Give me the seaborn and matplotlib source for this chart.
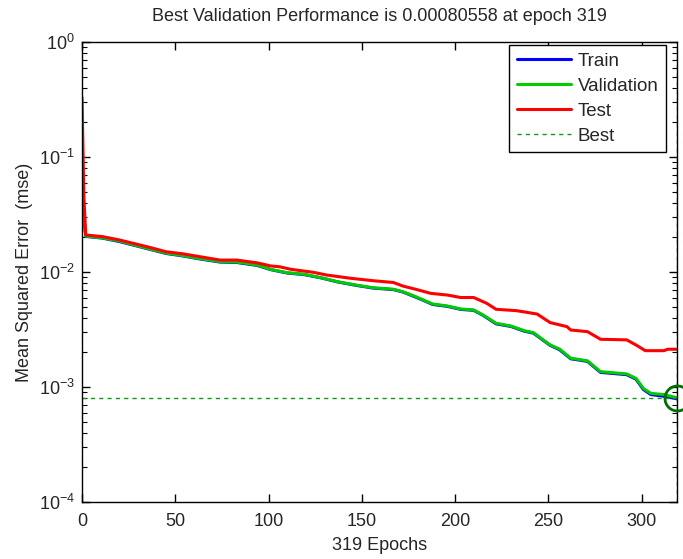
import matplotlib
matplotlib.use("Agg")
import matplotlib.pyplot as plt
import seaborn as sns
import pandas as pd
import numpy as np
from matplotlib.ticker import LogLocator, NullFormatter

# ---------------- data ----------------
val_epochs = [0, 1, 2, 11, 20, 29, 38, 45, 54, 63, 74, 83, 94, 101, 110, 119, 128, 137, 147, 156,
              167, 172, 178, 183, 188, 196, 203, 210, 215, 222, 230, 237, 242, 251, 256, 262, 271, 278,
              292, 297, 301, 305, 312, 319]
validation = [0.052, 0.031, 0.0205, 0.0198, 0.0186, 0.0170, 0.0156, 0.0146, 0.0139, 0.0131,
              0.0123, 0.0122, 0.0115, 0.01055, 0.00986, 0.00955, 0.00893, 0.00824, 0.0077, 0.0073,
              0.00708, 0.00674, 0.00619, 0.00571, 0.00527, 0.00506, 0.00477, 0.00468, 0.00423, 0.00358,
              0.00339, 0.00309, 0.00297, 0.00232, 0.00214, 0.00178, 0.00169, 0.00136, 0.0013, 0.00119,
              0.00097, 0.00088, 0.00086, 0.00080558]
train = [0.046, 0.030, 0.0204, 0.0197, 0.0184, 0.0169, 0.0155, 0.0145, 0.0138, 0.0130,
         0.0122, 0.0121, 0.0114, 0.0105, 0.0098, 0.0095, 0.0089, 0.0082, 0.00765, 0.00725,
         0.00703, 0.0067, 0.00613, 0.00567, 0.00522, 0.00502, 0.00473, 0.00464, 0.0042, 0.00354,
         0.00336, 0.00306, 0.00294, 0.0023, 0.00211, 0.00176, 0.00167, 0.00134, 0.00128, 0.00117,
         0.00095, 0.00086, 0.00083, 0.00079]
test_epochs = [0, 1, 2, 11, 20, 29, 38, 45, 54, 63, 74, 83, 94, 101, 106, 112, 124, 131, 144, 156,
               167, 172, 179, 187, 196, 203, 210, 217, 222, 233, 244, 251, 260, 262, 271, 278, 292, 297,
               302, 312, 314, 319]
test = [0.33, 0.045, 0.021, 0.0203, 0.0190, 0.0175, 0.0161, 0.0150, 0.0144, 0.0136,
        0.0127, 0.0127, 0.0120, 0.0113, 0.0111, 0.01055, 0.00994, 0.00942, 0.00882, 0.0084,
        0.0081, 0.00755, 0.00707, 0.00652, 0.0063, 0.0060, 0.0060, 0.00534, 0.00474, 0.00461,
        0.00431, 0.00363, 0.00335, 0.00313, 0.00303, 0.0026, 0.00257, 0.00232, 0.00207, 0.00207,
        0.00213, 0.00213]
best_epoch = 319
best_perf = 0.00080558
x_ticks = [0, 50, 100, 150, 200, 250, 300]
series_names = ["Train", "Validation", "Test"]

# ---------------- style ----------------
sns.set_style("ticks")
plt.rcParams["font.family"] = ["Liberation Sans", "DejaVu Sans"]
plt.rcParams["mathtext.fontset"] = "custom"
plt.rcParams["mathtext.rm"] = "Liberation Sans"
plt.rcParams["mathtext.it"] = "Liberation Sans"

fig = plt.figure(figsize=(6.83, 5.59), dpi=100)
ax = fig.add_axes([82 / 683, 1 - 502 / 559, 595 / 683, 460 / 559])

colors = {"Train": "#0000ff", "Validation": "#00cc00", "Test": "#ff0000"}
frames = [
    pd.DataFrame({"epoch": val_epochs, "mse": train, "set": "Train"}),
    pd.DataFrame({"epoch": val_epochs, "mse": validation, "set": "Validation"}),
    pd.DataFrame({"epoch": test_epochs, "mse": test, "set": "Test"}),
]
df = pd.concat(frames, ignore_index=True)
sns.lineplot(data=df, x="epoch", y="mse", hue="set", hue_order=series_names,
             palette=colors, estimator=None, sort=False, linewidth=2.2, ax=ax)

best_color = "#119911"
ax.plot([0, best_epoch], [best_perf, best_perf], linestyle=(0, (3, 3)), color=best_color,
        linewidth=1.0, label="Best")
ax.plot([best_epoch, best_epoch], [1e-4, 1], linestyle=(0, (3, 3)), color=best_color,
        linewidth=1.0)
ax.plot([best_epoch], [best_perf], marker="o", markersize=18, markerfacecolor="none",
        markeredgecolor="#006e00", markeredgewidth=2.0, clip_on=False, zorder=5)

ax.set_yscale("log")
ax.set_xlim(0, 319)
ax.set_ylim(1e-4, 1)
ax.set_xticks(x_ticks)
ax.yaxis.set_major_locator(LogLocator(base=10, numticks=10))
ax.yaxis.set_minor_locator(LogLocator(base=10, subs=np.arange(2, 10), numticks=20))
ax.yaxis.set_minor_formatter(NullFormatter())

ax.tick_params(which="both", direction="in", top=True, right=True, color="black")
ax.tick_params(which="major", length=6, width=1, labelsize=13)
ax.tick_params(axis="x", which="major", pad=8)
ax.tick_params(axis="y", which="major", pad=5)
ax.tick_params(which="minor", length=3.5, width=0.8)
for s in ax.spines.values():
    s.set_color("black")
    s.set_linewidth(1)

ax.set_title("Best Validation Performance is 0.00080558 at epoch 319", fontsize=13, pad=15)
ax.set_xlabel("319 Epochs", fontsize=13, labelpad=5)
ax.set_ylabel("Mean Squared Error  (mse)", fontsize=13, labelpad=4)

handles, labels = ax.get_legend_handles_labels()
order = ["Train", "Validation", "Test", "Best"]
hmap = dict(zip(labels, handles))
leg = ax.legend([hmap[k] for k in order], order, loc="upper right",
                bbox_to_anchor=(666 / 683, 1 - 45 / 559), bbox_transform=fig.transFigure,
                borderaxespad=0, fontsize=13.5,
                frameon=True, fancybox=False, edgecolor="black", framealpha=1,
                handlelength=2.9, labelspacing=0.42, handletextpad=0.35, borderpad=0.4)
leg.get_frame().set_linewidth(1)

fig.savefig("out.png", dpi=100)
